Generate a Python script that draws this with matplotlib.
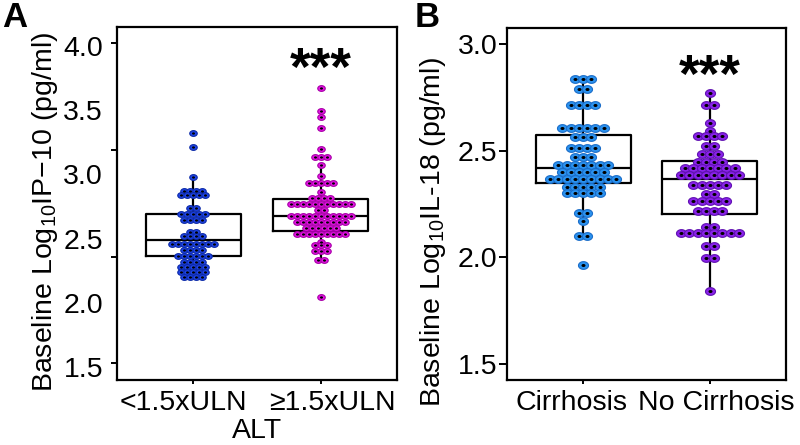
import numpy as np
import matplotlib.pyplot as plt
from matplotlib.path import Path
from matplotlib.transforms import ScaledTranslation

plt.rcParams['font.family'] = ['Liberation Sans', 'DejaVu Sans']
plt.rcParams['mathtext.default'] = 'regular'

# panel A: IP-10 by ALT group (dot rows: value, number of dots)
alt_groups = ['<1.5xULN', '\u22651.5xULN']
ip10_low_vals = [3.322, 3.21, 2.98, 2.871, 2.84, 2.738, 2.692, 2.645, 2.551, 2.52,
                 2.458, 2.411, 2.364, 2.318, 2.279, 2.24, 2.201]
ip10_low_counts = [1, 1, 1, 4, 5, 2, 5, 4, 2, 4, 8, 4, 6, 4, 5, 5, 4]
ip10_high_vals = [3.671, 3.496, 3.45, 3.36, 3.20, 3.135, 3.077, 2.99, 2.93, 2.86, 2.82,
                  2.773, 2.72, 2.676, 2.632, 2.58, 2.533, 2.476, 2.45, 2.40, 2.333, 2.047]
ip10_high_counts = [1, 1, 1, 1, 1, 3, 1, 1, 5, 1, 4, 11, 2, 11, 9, 6, 9, 1, 3, 3, 2, 1]
# box stats
ip10_q1 = [2.361, 2.561]
ip10_med = [2.489, 2.676]
ip10_q3 = [2.692, 2.808]
ip10_lo = [2.201, 2.333]
ip10_hi = [2.98, 3.077]

# panel B: IL-18 by cirrhosis status
cir_groups = ['Cirrhosis', 'No Cirrhosis']
il18_cir_vals = [2.836, 2.787, 2.714, 2.605, 2.565, 2.511, 2.468, 2.433, 2.40, 2.367,
                 2.33, 2.30, 2.206, 2.17, 2.10, 1.966]
il18_cir_counts = [3, 2, 4, 6, 3, 4, 3, 7, 6, 9, 5, 5, 2, 1, 2, 1]
il18_no_vals = [2.77, 2.716, 2.632, 2.594, 2.569, 2.52, 2.484, 2.447, 2.417, 2.384,
                2.34, 2.296, 2.262, 2.217, 2.142, 2.116, 2.053, 1.995, 1.842]
il18_no_counts = [1, 2, 1, 1, 4, 2, 3, 4, 7, 8, 5, 2, 5, 4, 2, 8, 2, 2, 1]
il18_q1 = [2.347, 2.203]
il18_med = [2.417, 2.366]
il18_q3 = [2.573, 2.453]
il18_lo = [2.10, 1.842]
il18_hi = [2.836, 2.77]

t = np.linspace(0, 2 * np.pi, 48)
oval = Path(np.column_stack([1.3 * np.cos(t), np.sin(t)]), closed=True)


def dots(ax, x0, vals, counts, step, size, face, edge):
    xs, ys = [], []
    for v, n in zip(vals, counts):
        off = (np.arange(n) - (n - 1) / 2.0) * step
        xs.extend(x0 + off)
        ys.extend([v] * n)
    ax.scatter(xs, ys, s=size, marker=oval, c=face, edgecolors=edge,
               linewidths=0.8, zorder=3)
    ax.scatter(xs, ys, s=size * 0.16, marker=oval, c='black', linewidths=0, zorder=4)


def boxes(ax, q1, med, q3, lo, hi):
    stats = [dict(q1=a, med=b, q3=c, whislo=d, whishi=e, fliers=[])
             for a, b, c, d, e in zip(q1, med, q3, lo, hi)]
    lw = 1.6
    ax.bxp(stats, positions=[1, 2], widths=0.75, showfliers=False, showcaps=False,
           boxprops=dict(color='black', lw=lw), medianprops=dict(color='black', lw=lw),
           whiskerprops=dict(color='black', lw=lw), zorder=2)


fig = plt.figure(figsize=(8, 4.45), dpi=100)
axA = fig.add_axes([117 / 800, 65 / 445, 280 / 800, 353 / 445])
axB = fig.add_axes([507 / 800, 65 / 445, 279 / 800, 352 / 445])

boxes(axA, ip10_q1, ip10_med, ip10_q3, ip10_lo, ip10_hi)
dots(axA, 1, ip10_low_vals, ip10_low_counts, 0.047, 29, '#1f44e6', '#0c2aa8')
dots(axA, 2, ip10_high_vals, ip10_high_counts, 0.047, 29, '#e414e4', '#a800a8')

boxes(axB, il18_q1, il18_med, il18_q3, il18_lo, il18_hi)
dots(axB, 1, il18_cir_vals, il18_cir_counts, 0.065, 52, '#2b93f0', '#1a6cc8')
dots(axB, 2, il18_no_vals, il18_no_counts, 0.065, 52, '#8a22ea', '#5f10b0')

fs = 20.5
for ax in (axA, axB):
    ax.set_xlim(0.4, 2.6)
    ax.set_xticks([1, 2])
    for sp in ax.spines.values():
        sp.set_linewidth(1.6)
    ax.tick_params(axis='x', length=3, width=1.4, pad=4, labelsize=fs)
    ax.tick_params(axis='y', width=1.4, labelsize=fs)

axA.set_xticklabels(alt_groups)
axA.set_ylim(1.399, 4.148)
axA.set_yticks([1.5, 2.0, 2.5, 3.0, 3.5, 4.0])
axA.set_yticks([1.531, 2.357, 3.19, 4.023], minor=True)
axA.tick_params(axis='y', which='major', length=0, pad=10)
axA.tick_params(axis='y', which='minor', length=4.5, width=1.4)
axA.set_xlabel('ALT', fontsize=fs, labelpad=2)
axA.text(2, 3.70, '***', ha='center', va='baseline', fontsize=38, fontweight='bold')

axB.set_xticklabels(cir_groups)
axB.set_ylim(1.425, 3.075)
axB.set_yticks([1.5, 2.0, 2.5, 3.0])
axB.tick_params(axis='y', length=5.5, pad=1.5)
axB.text(2, 2.777, '***', ha='center', va='baseline', fontsize=38, fontweight='bold')

# the category labels sit a little apart from their ticks in the original
for ax, shifts in ((axA, [-10, 12]), (axB, [-12, 6])):
    for lbl, dx in zip(ax.get_xticklabels(), shifts):
        lbl.set_transform(lbl.get_transform() +
                          ScaledTranslation(dx / fig.dpi, 0, fig.dpi_scale_trans))

fig.text(45 / 800, 1 - 212 / 445, 'Baseline Log$_{\\mathregular{10}}$IP\u221210 (pg/ml)',
         rotation=90, ha='center', va='center', fontsize=fs)
fig.text(433 / 800, 1 - 232 / 445, 'Baseline Log$_{\\mathregular{10}}$IL-18 (pg/ml)',
         rotation=90, ha='center', va='center', fontsize=fs)
fig.text(2 / 800, 1 - 27 / 445, 'A', ha='left', va='baseline', fontsize=25, fontweight='bold')
fig.text(415 / 800, 1 - 27 / 445, 'B', ha='left', va='baseline', fontsize=25, fontweight='bold')

fig.savefig('out.png', dpi=100)
